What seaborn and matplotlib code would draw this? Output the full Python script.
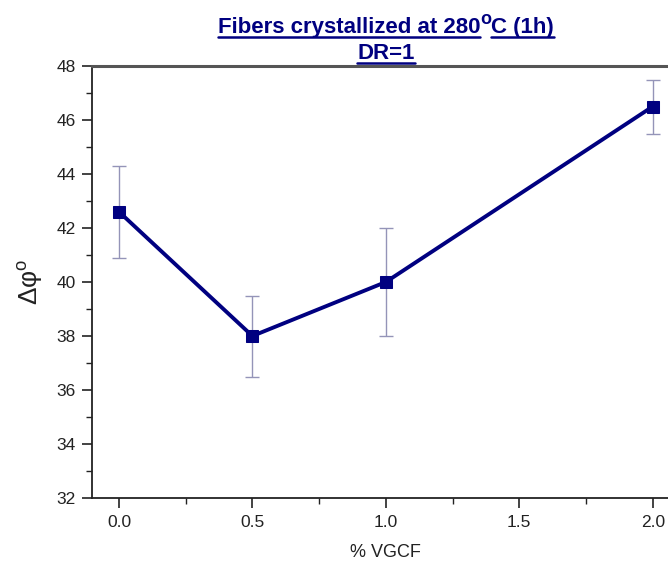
import matplotlib
matplotlib.use("Agg")
import matplotlib.pyplot as plt
from matplotlib.ticker import MultipleLocator
from matplotlib.lines import Line2D
import seaborn as sns
import pandas as pd

# Fibre data
vgcf = [0.0, 0.5, 1.0, 2.0]
delta_phi = [42.6, 38.0, 40.0, 46.5]
err_low = [1.7, 1.5, 2.0, 1.0]
err_high = [1.7, 1.5, 2.0, 1.0]
x_ticks = [0.0, 0.5, 1.0, 1.5, 2.0]
y_ticks = [32, 34, 36, 38, 40, 42, 44, 46, 48]

sns.set_style("ticks")
plt.rcParams["font.family"] = ["Liberation Sans", "DejaVu Sans"]
plt.rcParams["mathtext.fontset"] = "custom"
plt.rcParams["mathtext.rm"] = "Liberation Sans"
plt.rcParams["mathtext.bf"] = "Liberation Sans:bold"

navy = "#000080"
df = pd.DataFrame({"vgcf": vgcf, "dphi": delta_phi})

fig = plt.figure(figsize=(6.68, 5.64), dpi=100)
ax = fig.add_axes([92.3 / 668, 66 / 564, (679.4 - 92.3) / 668, (498 - 66) / 564])

ax.errorbar(vgcf, delta_phi, yerr=[err_low, err_high], fmt="none",
            ecolor="#9494b8", elinewidth=1.0, capsize=5, capthick=1.0, zorder=2)
sns.lineplot(data=df, x="vgcf", y="dphi", ax=ax, color=navy, linewidth=2.8,
             marker="s", markersize=8.5, markeredgecolor=navy,
             markerfacecolor=navy, zorder=3)

ax.set_xlim(-0.1, 2.1)
ax.set_ylim(32, 48)
ax.set_xticks(x_ticks)
ax.set_xticklabels([f"{t:.1f}" for t in x_ticks])
ax.set_yticks(y_ticks)
ax.xaxis.set_minor_locator(MultipleLocator(0.25))
ax.yaxis.set_minor_locator(MultipleLocator(1))
ax.tick_params(axis="both", which="major", direction="out", length=7, width=1.2,
               labelsize=12.5, colors="#222222", labelcolor="#222222", pad=5)
ax.tick_params(axis="both", which="minor", direction="out", length=4, width=1.0,
               colors="#222222")

for side in ["left", "bottom"]:
    ax.spines[side].set_color("#222222")
    ax.spines[side].set_linewidth(1.3)
ax.spines["top"].set_visible(True)
ax.spines["top"].set_color("#555555")
ax.spines["top"].set_linewidth(2.2)
ax.spines["right"].set_visible(False)

ax.set_xlabel("% VGCF", fontsize=13, color="#222222", labelpad=10)
ax.set_ylabel("Δφ$^{\\mathrm{o}}$", fontsize=19, color="#222222", labelpad=8)

# Underlined, two-line title assembled from separate text pieces
fig.canvas.draw()
renderer = fig.canvas.get_renderer()
title_kw = dict(fontsize=16, fontweight="bold", color=navy)

def place_line(pieces, y):
    """pieces: list of (text, underline, is_super)"""
    artists = []
    for txt, ul, sup in pieces:
        kw = dict(title_kw)
        if sup:
            kw["fontsize"] = 13
        t = fig.text(0, 0, txt, ha="left", va="baseline", **kw)
        artists.append((t, ul, sup))
    widths = [a.get_window_extent(renderer).width for a, _, _ in artists]
    total = sum(widths)
    x0 = (386 - total / 2)
    for (t, ul, sup), w in zip(artists, widths):
        yy = y - (9 if sup else 0)
        t.set_position((x0 / 668, 1 - yy / 564))
        if ul:
            fig.add_artist(Line2D([x0 / 668, (x0 + w) / 668],
                                  [1 - (y + 4) / 564] * 2,
                                  transform=fig.transFigure, color=navy, lw=1.8))
        x0 += w

place_line([("Fibers crystallized at 280", True, False),
            ("o", False, True),
            ("C (1h)", True, False)], 33)
place_line([("DR=1", True, False)], 59)

fig.savefig("out.png", dpi=100)
